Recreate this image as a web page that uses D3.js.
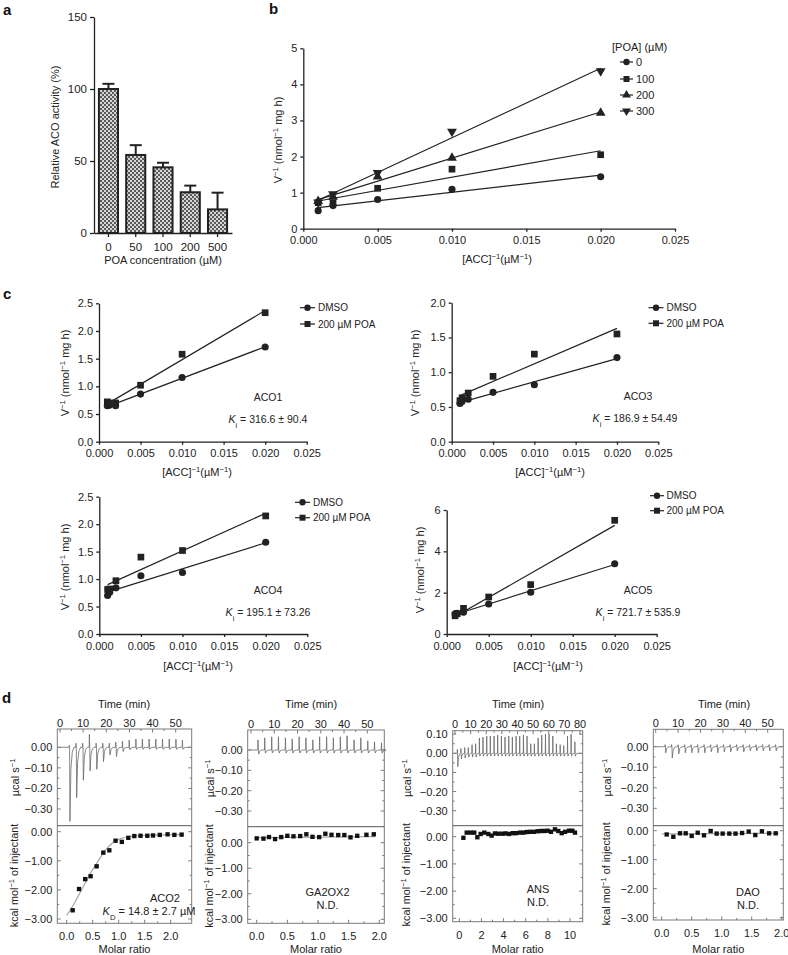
<!DOCTYPE html>
<html>
<head>
<meta charset="utf-8">
<script src="https://cdn.jsdelivr.net/npm/d3@7"></script>
<style>
  body { margin: 0; background: #fff; }
  text { font-family: "Liberation Sans", Arial, Helvetica, sans-serif; }
</style>
</head>
<body>
<svg id="fig" width="788" height="955"></svg>
<script>
// ---- panel a: relative ACO activity
const poaConc = ['0', '50', '100', '200', '500'];
const acoActivity = [100, 54.2, 45.6, 28.3, 16.4];
const acoActivityErr = [3.6, 6.8, 3.2, 4.6, 11.6];
const activityTicks = [0, 50, 100, 150];

// ---- panel b: double reciprocal plot at 4 POA levels
const bAccInv = [0.001, 0.002, 0.005, 0.010, 0.020];
const bPoaLevels = ['0', '100', '200', '300'];
const bPoa0 = [0.50, 0.64, 0.81, 1.09, 1.44];
const bPoa100 = [0.72, 0.72, 1.12, 1.65, 2.05];
const bPoa200 = [0.76, 0.88, 1.44, 1.96, 3.21];
const bPoa300 = [0.73, 0.96, 1.55, 2.69, 4.37];
const bYTicks = [0, 1, 2, 3, 4, 5];
const accTicks = [0, 0.005, 0.010, 0.015, 0.020, 0.025];

// ---- panel c: ACO isoforms, DMSO vs 200 uM POA
const cAccInv = [0.001, 0.00125, 0.002, 0.005, 0.010, 0.020];
const cLegend = ['DMSO', '200 µM POA'];
const aco1Dmso = [0.65, 0.66, 0.65, 0.86, 1.16, 1.71];
const aco1Poa = [0.72, 0.70, 0.70, 1.02, 1.58, 2.33];
const aco3Dmso = [0.55, 0.58, 0.61, 0.71, 0.82, 1.21];
const aco3Poa = [0.59, 0.63, 0.70, 0.94, 1.26, 1.55];
const aco4Dmso = [0.70, 0.76, 0.84, 1.06, 1.12, 1.67];
const aco4Poa = [0.81, 0.82, 0.97, 1.40, 1.52, 2.15];
const aco5Dmso = [0.98, 1.00, 1.05, 1.45, 2.02, 3.40];
const aco5Poa = [0.88, 0.98, 1.24, 1.79, 2.39, 5.50];
const cTicks25 = [0, 0.5, 1.0, 1.5, 2.0, 2.5];
const cTicks20 = [0, 0.5, 1.0, 1.5, 2.0];
const cTicks6 = [0, 2, 4, 6];

// ---- panel d: ITC, injection peaks (ucal/s) and integrated heats (kcal/mol)
const aco2InjTime = [4.0, 6.9, 9.8, 12.7, 15.6, 18.5, 21.3, 24.1, 27.0, 29.9, 32.8, 35.6, 38.5, 41.4, 44.3, 47.2, 50.1, 52.9];
const aco2PeakUp = [0.01, 0.02, 0.02, 0.063, 0.02, 0.02, 0.02, 0.025, 0.03, 0.035, 0.04, 0.04, 0.04, 0.04, 0.04, 0.04, 0.04, 0.035];
const aco2PeakDown = [-0.36, -0.245, -0.16, -0.115, -0.107, -0.07, -0.037, -0.045, -0.02, -0.012, -0.01, -0.01, -0.01, -0.01, -0.01, -0.01, -0.01, -0.01];
const aco2Ratio = [0.115, 0.237, 0.356, 0.46, 0.576, 0.704, 0.82, 0.94, 1.06, 1.185, 1.30, 1.42, 1.55, 1.66, 1.79, 1.94, 2.07, 2.21];
const aco2Heat = [-2.70, -1.97, -1.63, -1.53, -1.19, -0.72, -0.64, -0.31, -0.35, -0.21, -0.15, -0.14, -0.14, -0.13, -0.11, -0.09, -0.11, -0.10];
const aco2FitRatio = [0.0, 0.15, 0.3, 0.45, 0.6, 0.75, 0.9, 1.05, 1.25, 1.6, 2.2];
const aco2FitHeat = [-2.88, -2.45, -1.95, -1.45, -1.02, -0.62, -0.36, -0.23, -0.16, -0.12, -0.10];

const ga2ox2InjTime = [3.0, 5.9, 8.9, 11.8, 14.8, 17.7, 20.7, 23.6, 26.6, 29.5, 32.5, 35.4, 38.4, 41.3, 44.3, 47.2, 50.2, 53.1, 56.1];
const ga2ox2PeakUp = [0.05, 0.06, 0.065, 0.065, 0.06, 0.055, 0.065, 0.06, 0.05, 0.065, 0.065, 0.06, 0.065, 0.07, 0.05, 0.06, 0.045, 0.04, 0.035];
const ga2ox2PeakDown = [-0.02, -0.015, -0.015, -0.015, -0.015, -0.015, -0.015, -0.015, -0.015, -0.015, -0.015, -0.015, -0.015, -0.015, -0.015, -0.015, -0.015, -0.015, -0.015];
const ga2ox2Ratio = [0.0, 0.11, 0.20, 0.30, 0.40, 0.50, 0.60, 0.71, 0.81, 0.91, 1.02, 1.12, 1.22, 1.33, 1.43, 1.53, 1.64, 1.79, 1.91];
const ga2ox2Heat = [0.17, 0.16, 0.22, 0.14, 0.22, 0.27, 0.25, 0.26, 0.33, 0.23, 0.22, 0.35, 0.31, 0.30, 0.30, 0.21, 0.27, 0.31, 0.33];
const ga2ox2FitRatio = [0.0, 1.93];
const ga2ox2FitHeat = [0.20, 0.24];

const ansInjTime = [1.5, 3.8, 6.2, 8.5, 10.9, 13.2, 15.6, 17.9, 20.3, 22.6, 25.0, 27.3, 29.7, 32.0, 34.4, 36.7, 39.1, 41.4, 43.8, 46.1, 48.5, 50.8, 53.2, 55.5, 57.9, 60.2, 62.6, 64.9, 67.3, 69.6, 72.0, 74.3, 76.7];
const ansPeakUp = [0.02, 0.025, 0.03, 0.03, 0.045, 0.05, 0.08, 0.085, 0.09, 0.09, 0.09, 0.095, 0.09, 0.085, 0.09, 0.085, 0.09, 0.09, 0.095, 0.09, 0.05, 0.05, 0.08, 0.095, 0.10, 0.10, 0.09, 0.05, 0.045, 0.04, 0.09, 0.10, 0.06];
const ansPeakDown = [-0.07, -0.03, -0.025, -0.02, -0.02, -0.02, -0.015, -0.015, -0.015, -0.015, -0.015, -0.015, -0.015, -0.015, -0.015, -0.015, -0.015, -0.015, -0.015, -0.015, -0.015, -0.015, -0.015, -0.015, -0.015, -0.015, -0.015, -0.015, -0.015, -0.015, -0.015, -0.015, -0.015];
const ansRatio = [0.37, 0.67, 1.02, 1.35, 1.63, 1.93, 2.26, 2.62, 2.92, 3.22, 3.53, 3.89, 4.19, 4.49, 4.82, 5.12, 5.48, 5.78, 6.08, 6.38, 6.74, 7.08, 7.38, 7.68, 7.98, 8.28, 8.64, 8.94, 9.25, 9.55, 9.91, 10.21, 10.45];
const ansHeat = [-0.04, 0.15, 0.15, 0.15, -0.02, 0.10, 0.15, 0.10, 0.04, 0.12, 0.11, 0.11, 0.12, 0.10, 0.13, 0.13, 0.15, 0.15, 0.17, 0.18, 0.18, 0.20, 0.21, 0.21, 0.22, 0.18, 0.27, 0.21, 0.13, 0.18, 0.22, 0.22, 0.15];
const ansFitRatio = [];
const ansFitHeat = [];

const daoInjTime = [4.2, 7.1, 10.0, 12.9, 15.8, 18.7, 21.6, 24.5, 27.4, 30.3, 33.2, 36.1, 39.0, 41.9, 44.8, 47.7, 50.6, 53.5];
const daoPeakUp = [0.01, 0.01, 0.01, 0.01, 0.01, 0.01, 0.01, 0.01, 0.01, 0.01, 0.01, 0.01, 0.01, 0.01, 0.01, 0.01, 0.01, 0.01];
const daoPeakDown = [-0.03, -0.055, -0.035, -0.03, -0.03, -0.03, -0.03, -0.025, -0.03, -0.025, -0.025, -0.02, -0.025, -0.02, -0.02, -0.02, -0.02, -0.02];
const daoRatio = [0.083, 0.194, 0.305, 0.40, 0.50, 0.60, 0.705, 0.816, 0.916, 1.016, 1.127, 1.23, 1.34, 1.45, 1.56, 1.67, 1.79, 1.90];
const daoHeat = [-0.13, -0.21, -0.09, -0.09, -0.18, -0.07, -0.16, -0.01, -0.10, -0.10, -0.10, -0.10, -0.08, -0.03, -0.15, -0.02, -0.09, -0.09];
const daoFitRatio = [0.0, 1.95];
const daoFitHeat = [-0.11, -0.09];

const timeTicks50 = [0, 10, 20, 30, 40, 50];
const timeTicks80 = [0, 10, 20, 30, 40, 50, 60, 70, 80];
const powerTicks = [0, -0.1, -0.2, -0.3];
const powerTicksAns = [0.1, 0, -0.1, -0.2, -0.3];
const heatTicks = [0, -1, -2, -3];
const ratioTicks2 = [0, 0.5, 1.0, 1.5, 2.0];
const ratioTicks10 = [0, 2, 4, 6, 8, 10];

// ------------------------------------------------------------------
const INK = '#222';
const FONT = '"Liberation Sans", Arial, Helvetica, sans-serif';
const svg = d3.select('#fig');

// text with super/subscript/italic pieces
function rich(parent, x, y, parts, o = {}) {
  const t = parent.append('text')
    .attr('x', x).attr('y', y)
    .attr('font-size', o.size || 11)
    .attr('fill', INK)
    .attr('text-anchor', o.anchor || 'middle');
  if (o.rotate) t.attr('transform', `rotate(-90,${x},${y})`);
  parts.forEach(p => {
    const [s, kind] = Array.isArray(p) ? p : [p, null];
    const ts = t.append('tspan').text(s);
    if (kind === 'sup') ts.attr('baseline-shift', 'super').attr('font-size', '70%');
    if (kind === 'sub') ts.attr('baseline-shift', 'sub').attr('font-size', '70%');
    if (kind === 'it') ts.attr('font-style', 'italic');
  });
  return t;
}

function styleAxis(g, size) {
  g.attr('font-family', FONT).attr('font-size', size);
  g.select('.domain').attr('stroke', INK).attr('stroke-width', 1.3);
  g.selectAll('.tick line').attr('stroke', INK).attr('stroke-width', 1.3);
  g.selectAll('.tick text').attr('fill', INK);
}

function panelLabel(x, y, s) {
  svg.append('text').attr('x', x).attr('y', y)
    .attr('font-size', 15).attr('font-weight', 'bold').attr('fill', '#111').text(s);
}

// least squares line through the points
function fitLine(xs, ys) {
  const mx = d3.mean(xs), my = d3.mean(ys);
  const sxy = d3.sum(xs, (x, i) => (x - mx) * (ys[i] - my));
  const sxx = d3.sum(xs, x => (x - mx) ** 2);
  const k = sxy / sxx;
  return x => my + k * (x - mx);
}

const SYM = {
  circle: [d3.symbolCircle, 40, false],
  square: [d3.symbolSquare, 45, false],
  triUp: [d3.symbolTriangle, 42, false],
  triDown: [d3.symbolTriangle, 42, true]
};
const accInvLabel = ['[ACC]', ['−1', 'sup'], '(µM', ['−1', 'sup'], ')'];
const rateLabel = ['V', ['−1', 'sup'], ' (nmol', ['−1', 'sup'], ' mg h)'];

// ================= a =================
panelLabel(3, 15, 'a');
{
  const g = svg.append('g');
  const defs = svg.append('defs');
  const pat = defs.append('pattern').attr('id', 'hatch')
    .attr('patternUnits', 'userSpaceOnUse').attr('width', 4).attr('height', 4);
  pat.append('rect').attr('width', 4).attr('height', 4).attr('fill', '#d6d6d6');
  pat.append('rect').attr('width', 2).attr('height', 2).attr('fill', '#5a5a5a');
  pat.append('rect').attr('x', 2).attr('y', 2).attr('width', 2).attr('height', 2).attr('fill', '#5a5a5a');

  const x = d3.scaleBand().domain(poaConc).range([94, 232]).paddingInner(0.3).paddingOuter(0.18);
  const y = d3.scaleLinear().domain([0, 150]).range([233, 17]);

  // error bars (upper only)
  const cap = 12;
  g.selectAll('line.err').data(poaConc).join('line')
    .attr('x1', d => x(d) + x.bandwidth() / 2).attr('x2', d => x(d) + x.bandwidth() / 2)
    .attr('y1', (d, i) => y(acoActivity[i])).attr('y2', (d, i) => y(acoActivity[i] + acoActivityErr[i]))
    .attr('stroke', INK).attr('stroke-width', 2);
  g.selectAll('line.cap').data(poaConc).join('line')
    .attr('x1', d => x(d) + x.bandwidth() / 2 - cap / 2).attr('x2', d => x(d) + x.bandwidth() / 2 + cap / 2)
    .attr('y1', (d, i) => y(acoActivity[i] + acoActivityErr[i])).attr('y2', (d, i) => y(acoActivity[i] + acoActivityErr[i]))
    .attr('stroke', INK).attr('stroke-width', 2);

  g.selectAll('rect.bar').data(poaConc).join('rect')
    .attr('x', d => x(d)).attr('width', x.bandwidth())
    .attr('y', (d, i) => y(acoActivity[i]))
    .attr('height', (d, i) => y(0) - y(acoActivity[i]))
    .attr('fill', 'url(#hatch)').attr('stroke', INK).attr('stroke-width', 2);

  g.append('g').attr('transform', 'translate(0,233)')
    .call(d3.axisBottom(x).tickSize(4).tickSizeOuter(0).tickPadding(6))
    .call(styleAxis, 11.5);
  g.append('g').attr('transform', 'translate(94,0)')
    .call(d3.axisLeft(y).tickValues(activityTicks).tickSize(4).tickSizeOuter(0).tickPadding(3))
    .call(styleAxis, 11.5);

  rich(g, 59, 127, ['Relative ACO activity (%)'], { rotate: true, size: 11 });
  rich(g, 163, 264, ['POA concentration (µM)'], { size: 11 });
}

// ================= b & c: double reciprocal panels =================
function kinetics(p) {
  const g = svg.append('g');
  const x = d3.scaleLinear().domain([0, 0.025]).range([p.left, p.right]);
  const y = d3.scaleLinear().domain([0, p.yMax]).range([p.bottom, p.top]);

  g.append('g').attr('transform', `translate(0,${p.bottom})`)
    .call(d3.axisBottom(x).tickValues(accTicks).tickFormat(d3.format('.3f'))
      .tickSize(3).tickSizeOuter(0).tickPadding(5))
    .call(styleAxis, 11);
  g.append('g').attr('transform', `translate(${p.left},0)`)
    .call(d3.axisLeft(y).tickValues(p.yTicks).tickFormat(d3.format(p.fmt))
      .tickSize(3).tickSizeOuter(0).tickPadding(3))
    .call(styleAxis, 11);

  const [xMin, xMax] = d3.extent(p.xs);
  const lg = p.legend;
  p.series.forEach((s, k) => {
    const [type, size, flip] = SYM[s.sym];
    const rot = flip ? ' rotate(180)' : '';
    const f = fitLine(p.xs, s.ys);
    g.append('line')
      .attr('x1', x(xMin)).attr('y1', y(f(xMin)))
      .attr('x2', x(xMax)).attr('y2', y(f(xMax)))
      .attr('stroke', INK).attr('stroke-width', 1.2);
    g.append('g').selectAll('path').data(p.xs).join('path')
      .attr('d', d3.symbol().type(type).size(size))
      .attr('transform', (d, i) => `translate(${x(d)},${y(s.ys[i])})${rot}`)
      .attr('fill', INK);

    const ly = lg.ys[k];
    g.append('line').attr('x1', lg.x1).attr('x2', lg.x2).attr('y1', ly).attr('y2', ly)
      .attr('stroke', INK).attr('stroke-width', 1.2);
    g.append('path').attr('d', d3.symbol().type(type).size(size * 0.8))
      .attr('transform', `translate(${(lg.x1 + lg.x2) / 2},${ly})${rot}`).attr('fill', INK);
    g.append('text').attr('x', lg.tx).attr('y', ly).attr('dy', '0.36em')
      .attr('font-size', lg.size).attr('fill', INK).text(lg.names[k]);
  });

  rich(g, p.xlab[0], p.xlab[1], accInvLabel, { size: 11 });
  rich(g, p.ylab[0], p.ylab[1], rateLabel, { size: 11, rotate: true });
  if (p.name) {
    rich(g, p.name[0], p.name[1], [p.name[2]], { size: 10.5 });
    rich(g, p.ki[0], p.ki[1], [['K', 'it'], ['i', 'sub'], ' = ' + p.ki[2]], { size: 10.5 });
  }
  return g;
}

panelLabel(269, 14, 'b');
{
  const g = kinetics({
    left: 303.3, right: 675, top: 48.3, bottom: 228.7, yMax: 5, yTicks: bYTicks, fmt: 'd',
    xs: bAccInv,
    series: [{ ys: bPoa0, sym: 'circle' }, { ys: bPoa100, sym: 'square' },
             { ys: bPoa200, sym: 'triUp' }, { ys: bPoa300, sym: 'triDown' }],
    legend: { x1: 620, x2: 633, tx: 636, ys: [62, 79, 95, 111], names: bPoaLevels, size: 11 },
    xlab: [497, 263], ylab: [282, 140]
  });
  rich(g, 612, 51, ['[POA] (µM)'], { size: 11, anchor: 'start' });
}

panelLabel(3, 299, 'c');
kinetics({
  left: 99, right: 306.7, top: 303.3, bottom: 441.7, yMax: 2.5, yTicks: cTicks25, fmt: '.1f',
  xs: cAccInv, series: [{ ys: aco1Dmso, sym: 'circle' }, { ys: aco1Poa, sym: 'square' }],
  legend: { x1: 300, x2: 315, tx: 318, ys: [307.7, 324], names: cLegend, size: 10 },
  xlab: [197, 476], ylab: [69, 373],
  name: [268, 401, 'ACO1'], ki: [268, 423, '316.6 ± 90.4']
});
kinetics({
  left: 451.7, right: 658.3, top: 302.7, bottom: 441.7, yMax: 2.0, yTicks: cTicks20, fmt: '.1f',
  xs: cAccInv, series: [{ ys: aco3Dmso, sym: 'circle' }, { ys: aco3Poa, sym: 'square' }],
  legend: { x1: 648.5, x2: 663.5, tx: 666.5, ys: [307.7, 323.3], names: cLegend, size: 10 },
  xlab: [550, 476], ylab: [419, 373],
  name: [638, 400, 'ACO3'], ki: [635, 422, '186.9 ± 54.49']
});
kinetics({
  left: 99.3, right: 307.3, top: 496.7, bottom: 634, yMax: 2.5, yTicks: cTicks25, fmt: '.1f',
  xs: cAccInv, series: [{ ys: aco4Dmso, sym: 'circle' }, { ys: aco4Poa, sym: 'square' }],
  legend: { x1: 295, x2: 310, tx: 313, ys: [502.3, 517.7], names: cLegend, size: 10 },
  xlab: [198, 670], ylab: [69, 567],
  name: [268, 594, 'ACO4'], ki: [268, 616, '195.1 ± 73.26']
});
kinetics({
  left: 446.7, right: 656.7, top: 510, bottom: 634, yMax: 6, yTicks: cTicks6, fmt: 'd',
  xs: cAccInv, series: [{ ys: aco5Dmso, sym: 'circle' }, { ys: aco5Poa, sym: 'square' }],
  legend: { x1: 650, x2: 664, tx: 666.5, ys: [495.7, 510.7], names: cLegend, size: 10 },
  xlab: [548, 670], ylab: [424, 570],
  name: [638, 594, 'ACO5'], ki: [638, 616, '721.7 ± 535.9']
});

// ================= d: ITC panels =================
const fmt2 = v => (v < -1e-9 ? '−' : '') + Math.abs(v).toFixed(2);
const fmtRatio1 = v => v.toFixed(1);
const fmtRatio0 = v => String(v);

function itc(p) {
  const g = svg.append('g');
  const [L, R, T, M, B] = p.box;
  const t = d3.scaleLinear().domain(p.tMap[0]).range(p.tMap[1]);
  const yu = d3.scaleLinear().domain(p.uMap[0]).range(p.uMap[1]);
  const yl = d3.scaleLinear().domain(p.lMap[0]).range(p.lMap[1]);
  const xr = d3.scaleLinear().domain(p.rMap[0]).range(p.rMap[1]);
  const frame = '#7a7a7a';

  // raw power trace: baseline with one peak per injection
  const pts = [[t.invert(L + 1), 0]];
  p.inj.forEach((tt, i) => {
    const up = p.up[i], dn = p.down[i];
    pts.push([tt - 0.1, 0], [tt, up], [tt + 0.15, 0], [tt + 0.3, dn],
             [tt + 0.7, dn * 0.3], [tt + 1.3, dn * 0.07], [tt + 2, 0]);
  });
  pts.push([t.invert(R - 1), 0]);
  g.append('path').datum(pts)
    .attr('d', d3.line().x(d => t(d[0])).y(d => yu(d[1])))
    .attr('fill', 'none').attr('stroke', '#6a6a6a').attr('stroke-width', 0.8);

  // frame
  g.append('rect').attr('x', L).attr('y', T).attr('width', R - L).attr('height', B - T)
    .attr('fill', 'none').attr('stroke', frame).attr('stroke-width', 1);
  g.append('line').attr('x1', L).attr('x2', R).attr('y1', M).attr('y2', M)
    .attr('stroke', '#555').attr('stroke-width', 1);

  const tick = (x1, y1, x2, y2) => g.append('line')
    .attr('x1', x1).attr('y1', y1).attr('x2', x2).attr('y2', y2)
    .attr('stroke', frame).attr('stroke-width', 1);
  const mids = arr => arr.slice(1).map((v, i) => (v + arr[i]) / 2);

  // time axis on top
  p.tTicks.forEach(v => tick(t(v), T, t(v), T + 3.5));
  mids(p.tTicks).forEach(v => tick(t(v), T, t(v), T + 2));
  g.selectAll(null).data(p.tTicks).join('text')
    .attr('x', v => t(v)).attr('y', T - 2.5).attr('text-anchor', 'middle')
    .attr('font-size', 11).attr('fill', INK).text(v => v);

  // power axis (upper), both sides
  p.uTicks.forEach(v => { tick(L, yu(v), L + 3.5, yu(v)); tick(R - 3.5, yu(v), R, yu(v)); });
  mids(p.uTicks).forEach(v => { tick(L, yu(v), L + 2, yu(v)); tick(R - 2, yu(v), R, yu(v)); });
  g.selectAll(null).data(p.uTicks).join('text')
    .attr('x', L - 5).attr('y', v => yu(v)).attr('dy', '0.36em').attr('text-anchor', 'end')
    .attr('font-size', 11).attr('fill', INK).text(fmt2);

  // heat axis (lower)
  p.lTicks.forEach(v => { tick(L, yl(v), L + 3.5, yl(v)); tick(R - 3.5, yl(v), R, yl(v)); });
  mids(p.lTicks).forEach(v => { tick(L, yl(v), L + 2, yl(v)); tick(R - 2, yl(v), R, yl(v)); });
  g.selectAll(null).data(p.lTicks).join('text')
    .attr('x', L - 5).attr('y', v => yl(v)).attr('dy', '0.36em').attr('text-anchor', 'end')
    .attr('font-size', 11).attr('fill', INK).text(fmt2);

  // molar ratio axis
  p.rTicks.forEach(v => tick(xr(v), B, xr(v), B - 3.5));
  mids(p.rTicks).forEach(v => tick(xr(v), B, xr(v), B - 2));
  g.selectAll(null).data(p.rTicks).join('text')
    .attr('x', v => xr(v)).attr('y', B + 17).attr('text-anchor', 'middle')
    .attr('font-size', 11).attr('fill', INK).text(p.rFmt);

  // fit and integrated heats
  if (p.fitX.length) {
    g.append('path').datum(p.fitX.map((v, i) => [v, p.fitY[i]]))
      .attr('d', d3.line().curve(d3.curveMonotoneX).x(d => xr(d[0])).y(d => yl(d[1])))
      .attr('fill', 'none').attr('stroke', '#a8a8a8').attr('stroke-width', 1.2);
  }
  g.append('g').selectAll('path').data(p.ratio).join('path')
    .attr('d', d3.symbol().type(d3.symbolSquare).size(19))
    .attr('transform', (d, i) => `translate(${xr(d)},${yl(p.heat[i])})`)
    .attr('fill', '#111');

  // titles
  rich(g, p.timeX, 708, ['Time (min)'], { size: 11 });
  rich(g, (L + R) / 2, 953, ['Molar ratio'], { size: 11 });
  rich(g, p.ylabX, (T + M) / 2, ['µcal s', ['−1', 'sup']], { size: 11, rotate: true });
  rich(g, p.ylabX - 1, (M + B) / 2 + 1, ['kcal mol', ['−1', 'sup'], ' of injectant'], { size: 10.8, rotate: true });
  p.notes.forEach(n => rich(g, n[0], n[1], n[2], { size: 11 }));
}

panelLabel(2, 703, 'd');
itc({
  box: [57.3, 191.7, 729, 825.7, 923.3],
  tMap: [[0, 50], [60, 175.7]], uMap: [[0, -0.3], [747.3, 809]],
  lMap: [[0, -3], [831.7, 919]], rMap: [[0, 2], [66.7, 170.7]],
  tTicks: timeTicks50, uTicks: powerTicks, lTicks: heatTicks, rTicks: ratioTicks2, rFmt: fmtRatio1,
  inj: aco2InjTime, up: aco2PeakUp, down: aco2PeakDown,
  ratio: aco2Ratio, heat: aco2Heat, fitX: aco2FitRatio, fitY: aco2FitHeat,
  timeX: 124, ylabX: 19,
  notes: [[165, 902, ['ACO2']], [149, 915, [['K', 'it'], ['D', 'sub'], ' = 14.8 ± 2.7 µM']]]
});
itc({
  box: [247.7, 384.3, 730, 826.7, 923.3],
  tMap: [[0, 50], [251, 367.3]], uMap: [[0, -0.3], [750, 811]],
  lMap: [[0, -3], [842.7, 919.3]], rMap: [[0, 2], [256.7, 379.3]],
  tTicks: timeTicks50, uTicks: powerTicks, lTicks: heatTicks, rTicks: ratioTicks2, rFmt: fmtRatio1,
  inj: ga2ox2InjTime, up: ga2ox2PeakUp, down: ga2ox2PeakDown,
  ratio: ga2ox2Ratio, heat: ga2ox2Heat, fitX: ga2ox2FitRatio, fitY: ga2ox2FitHeat,
  timeX: 311, ylabX: 214,
  notes: [[327.5, 896, ['GA2OX2']], [327.5, 909, ['N.D.']]]
});
itc({
  box: [452.7, 582.7, 730.7, 825.7, 921.7],
  tMap: [[0, 80], [455, 580]], uMap: [[0, -0.3], [753.3, 810.7]],
  lMap: [[0, -3], [836.7, 918.3]], rMap: [[0, 10], [459.3, 570]],
  tTicks: timeTicks80, uTicks: powerTicksAns, lTicks: heatTicks, rTicks: ratioTicks10, rFmt: fmtRatio0,
  inj: ansInjTime, up: ansPeakUp, down: ansPeakDown,
  ratio: ansRatio, heat: ansHeat, fitX: ansFitRatio, fitY: ansFitHeat,
  timeX: 518, ylabX: 411,
  notes: [[538, 893, ['ANS']], [538, 906, ['N.D.']]]
});
itc({
  box: [653.3, 783.3, 729.3, 825.7, 920],
  tMap: [[0, 50], [655.7, 767.7]], uMap: [[0, -0.3], [746.7, 808.3]],
  lMap: [[0, -3], [830.7, 917.7]], rMap: [[0, 2], [661.7, 781.7]],
  tTicks: timeTicks50, uTicks: powerTicks, lTicks: heatTicks, rTicks: ratioTicks2, rFmt: fmtRatio1,
  inj: daoInjTime, up: daoPeakUp, down: daoPeakDown,
  ratio: daoRatio, heat: daoHeat, fitX: daoFitRatio, fitY: daoFitHeat,
  timeX: 724, ylabX: 611,
  notes: [[748, 896, ['DAO']], [748, 909, ['N.D.']]]
});
</script>
</body>
</html>
